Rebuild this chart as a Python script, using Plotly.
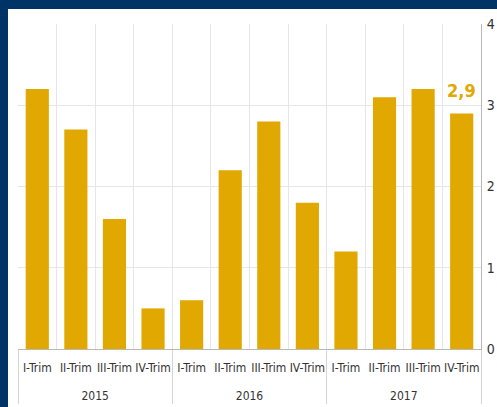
import plotly.graph_objects as go

years = ["2015"] * 4 + ["2016"] * 4 + ["2017"] * 4
quarters = ["I-Trim", "II-Trim", "III-Trim", "IV-Trim"] * 3
values = [3.2, 2.7, 1.6, 0.5, 0.6, 2.2, 2.8, 1.8, 1.2, 3.1, 3.2, 2.9]
last_label = "2,9"
y_ticks = [0, 1, 2, 3, 4]

GOLD = "#E0A800"
NAVY = "#003366"
FONT = "Liberation Sans Narrow, DejaVu Sans Condensed, Arial Narrow, sans-serif"

# extra blank line under each quarter label pushes the year row further down
quarter_tick = [q + "<br><span style='font-size:28px'>\u00a0</span>" for q in quarters]

fig = go.Figure(
    go.Bar(
        x=[years, quarter_tick],
        y=values,
        marker=dict(color=GOLD, line=dict(width=0)),
        width=0.6,
        cliponaxis=False,
    )
)

W, H = 497, 407
ml, mr, mt, mb = 18, 16, 24, 58
pw, ph = W - ml - mr, H - mt - mb


def px_x(p):
    return (p - ml) / pw


def px_y(p):
    return (H - mb - p) / ph


fig.update_layout(
    width=W,
    height=H,
    margin=dict(l=ml, r=mr, t=mt, b=mb, autoexpand=False),
    paper_bgcolor="white",
    plot_bgcolor="white",
    showlegend=False,
    font=dict(family=FONT, size=12, color="#333333"),
    shapes=[
        dict(type="rect", xref="paper", yref="paper",
             x0=px_x(-2), x1=px_x(W + 2), y0=px_y(9), y1=px_y(-2),
             fillcolor=NAVY, line=dict(width=0), layer="above"),
        dict(type="rect", xref="paper", yref="paper",
             x0=px_x(-2), x1=px_x(8), y0=px_y(H + 2), y1=px_y(-2),
             fillcolor=NAVY, line=dict(width=0), layer="above"),
    ],
    annotations=[
        dict(x=len(values) - 1, y=values[-1], xref="x", yref="y",
             text="<b>" + last_label + "</b>", showarrow=False,
             yanchor="bottom", yshift=10,
             font=dict(family=FONT, size=18, color=GOLD)),
    ],
)

fig.update_xaxes(
    type="multicategory",
    automargin=False,
    showgrid=True,
    gridcolor="#e6e6e6",
    gridwidth=1,
    showline=True,
    linecolor="#b8b8b8",
    linewidth=1,
    showdividers=True,
    dividercolor="#d4d4d4",
    dividerwidth=1,
    tickson="boundaries",
    ticks="",
    tickangle=0,
    ticklabelstandoff=8,
    tickfont=dict(family=FONT, size=12, color="#333333"),
)

fig.update_yaxes(
    side="right",
    automargin=False,
    range=[0, 4],
    tickvals=y_ticks,
    ticktext=[str(v) for v in y_ticks],
    showgrid=True,
    gridcolor="#e6e6e6",
    gridwidth=1,
    showline=True,
    linecolor="#b8b8b8",
    linewidth=1,
    zeroline=False,
    ticks="",
    ticklabelstandoff=2,
    tickfont=dict(family=FONT, size=14, color="#333333"),
)

fig.write_html(
    "out.html",
    config={"displayModeBar": False},
    post_script="document.body.style.margin='0px';document.body.style.overflow='hidden';",
)
